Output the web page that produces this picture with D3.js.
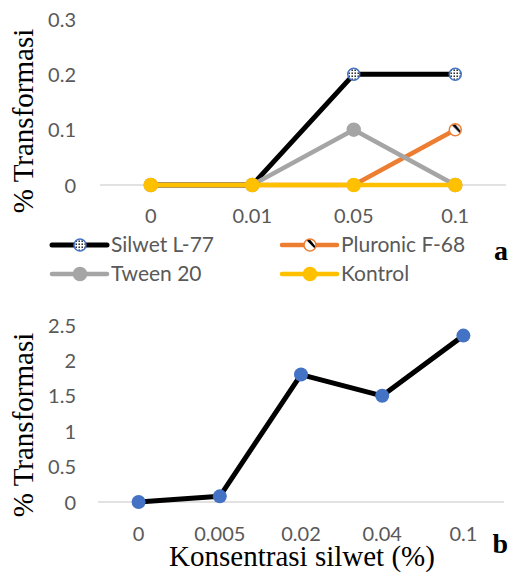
<!DOCTYPE html>
<html>
<head>
<meta charset="utf-8">
<script src="https://cdn.jsdelivr.net/npm/d3@7"></script>
<style>
  body { margin: 0; background: #fff; }
  .tick text { font-family: Lato, "Open Sans", sans-serif; fill: #595959; }
</style>
</head>
<body>
<script>
var width = 508;
var height = 572;

// chart a
var concA = ["0", "0.01", "0.05", "0.1"];
var silwet = [0, 0, 0.2, 0.2];
var pluronic = [0, 0, 0, 0.1];
var tween = [0, 0, 0.1, 0];
var kontrol = [0, 0, 0, 0];
var ticksA = [0, 0.1, 0.2, 0.3];

// chart b
var concB = ["0", "0.005", "0.02", "0.04", "0.1"];
var silwetB = [0, 0.08, 1.8, 1.5, 2.35];
var ticksB = [0, 0.5, 1, 1.5, 2, 2.5];

var svg = d3.select("body")
    .append("svg")
    .attr("width", width)
    .attr("height", height);

var defs = svg.append("defs");

var dots = defs.append("pattern")
    .attr("id", "dots")
    .attr("patternUnits", "userSpaceOnUse")
    .attr("width", 3)
    .attr("height", 3);
dots.append("rect").attr("width", 3).attr("height", 3).attr("fill", "#fff");
dots.append("rect").attr("x", 0.5).attr("y", 0.5).attr("width", 1.4).attr("height", 1.4).attr("fill", "#000");

var hatch = defs.append("pattern")
    .attr("id", "hatch")
    .attr("patternUnits", "objectBoundingBox")
    .attr("patternContentUnits", "objectBoundingBox")
    .attr("width", 1)
    .attr("height", 1);
hatch.append("rect").attr("width", 1).attr("height", 1).attr("fill", "#fff");
hatch.append("path").attr("d", "M0.15,0.05 L0.5,0.05 L0.95,0.6 L0.95,0.85 Z").attr("fill", "#000");

var series = [
    { name: "Silwet L-77", values: silwet, color: "#000000", lw: 5, fill: "url(#dots)", stroke: "#4472C4", r: 6 },
    { name: "Pluronic F-68", values: pluronic, color: "#ED7D31", lw: 4.5, fill: "url(#hatch)", stroke: "#ED7D31", r: 6 },
    { name: "Tween 20", values: tween, color: "#A5A5A5", lw: 4.5, fill: "#A5A5A5", stroke: "#A5A5A5", r: 6.5 },
    { name: "Kontrol", values: kontrol, color: "#FFC000", lw: 4.5, fill: "#FFC000", stroke: "#FFC000", r: 6.5 }
];

function axes(g, x, y, ticks, yTicks, xLabelY) {
    g.append("line")
        .attr("x1", x.range()[0]).attr("x2", x.range()[1])
        .attr("y1", y(0)).attr("y2", y(0))
        .attr("stroke", "#D9D9D9").attr("stroke-width", 1.3);

    var ya = g.append("g")
        .attr("transform", "translate(76,0)")
        .call(d3.axisLeft(y).tickValues(yTicks).tickSize(0).tickPadding(0).tickFormat(d3.format("~g")));
    ya.select(".domain").remove();
    ya.selectAll("text").attr("font-size", "20px").attr("dy", "0.35em");

    var xa = g.append("g")
        .attr("transform", "translate(0," + xLabelY + ")")
        .call(d3.axisBottom(x).tickSize(0).tickPadding(0));
    xa.select(".domain").remove();
    xa.selectAll("text").attr("font-size", "20px").attr("dy", 0);
}

function yTitle(y0, y1) {
    svg.append("text")
        .attr("transform", "translate(33," + ((y0 + y1) / 2) + ") rotate(-90)")
        .attr("text-anchor", "middle")
        .attr("font-family", "'Liberation Serif', 'Times New Roman', serif")
        .attr("font-size", "29px")
        .attr("fill", "#000")
        .text("% Transformasi");
}

// ---- chart a
var xA = d3.scaleBand().domain(concA).range([100, 506]);
var yA = d3.scaleLinear().domain([0, 0.3]).range([185, 19]);
var gA = svg.append("g");
axes(gA, xA, yA, concA, ticksA, 223);
yTitle(30, 212);

var lineA = d3.line()
    .x(function(d, i) { return xA(concA[i]) + xA.bandwidth() / 2; })
    .y(function(d) { return yA(d); });

series.forEach(function(s) {
    gA.append("path")
        .attr("d", lineA(s.values))
        .attr("fill", "none")
        .attr("stroke", s.color)
        .attr("stroke-width", s.lw)
        .attr("stroke-linejoin", "round");
    gA.selectAll(null)
        .data(s.values)
        .enter()
        .append("circle")
        .attr("cx", function(d, i) { return xA(concA[i]) + xA.bandwidth() / 2; })
        .attr("cy", function(d) { return yA(d); })
        .attr("r", s.r)
        .attr("fill", s.fill)
        .attr("stroke", s.stroke)
        .attr("stroke-width", 1.5);
});

// legend
var legPos = [[52, 245], [282, 245], [52, 274], [282, 274]];
series.forEach(function(s, i) {
    var lx = legPos[i][0], ly = legPos[i][1];
    var lg = svg.append("g");
    lg.append("line")
        .attr("x1", lx).attr("x2", lx + 55)
        .attr("y1", ly).attr("y2", ly)
        .attr("stroke", s.color).attr("stroke-width", s.lw)
        .attr("stroke-linecap", "round");
    lg.append("circle")
        .attr("cx", lx + 28).attr("cy", ly)
        .attr("r", s.r)
        .attr("fill", s.fill)
        .attr("stroke", s.stroke)
        .attr("stroke-width", 1.5);
    lg.append("text")
        .attr("x", lx + 59).attr("y", ly)
        .attr("dy", "0.35em")
        .attr("font-family", "Lato, 'Open Sans', sans-serif")
        .attr("font-size", "21px")
        .attr("fill", "#595959")
        .text(s.name);
});

svg.append("text")
    .attr("x", 508).attr("y", 260)
    .attr("text-anchor", "end")
    .attr("font-family", "'Liberation Serif', serif")
    .attr("font-weight", "bold")
    .attr("font-size", "28px")
    .text("a");

// ---- chart b
var xB = d3.scaleBand().domain(concB).range([98, 504]);
var yB = d3.scaleLinear().domain([0, 2.5]).range([502, 325]);
var gB = svg.append("g");
axes(gB, xB, yB, concB, ticksB, 541);
yTitle(333, 517);

var lineB = d3.line()
    .x(function(d, i) { return xB(concB[i]) + xB.bandwidth() / 2; })
    .y(function(d) { return yB(d); });

gB.append("path")
    .attr("d", lineB(silwetB))
    .attr("fill", "none")
    .attr("stroke", "#000")
    .attr("stroke-width", 5)
    .attr("stroke-linejoin", "round");

gB.selectAll("circle")
    .data(silwetB)
    .enter()
    .append("circle")
    .attr("cx", function(d, i) { return xB(concB[i]) + xB.bandwidth() / 2; })
    .attr("cy", function(d) { return yB(d); })
    .attr("r", 7)
    .attr("fill", "#4472C4");

svg.append("text")
    .attr("x", 302).attr("y", 566)
    .attr("text-anchor", "middle")
    .attr("font-family", "'Liberation Serif', 'Times New Roman', serif")
    .attr("font-size", "29px")
    .text("Konsentrasi silwet (%)");

svg.append("text")
    .attr("x", 508).attr("y", 553)
    .attr("text-anchor", "end")
    .attr("font-family", "'Liberation Serif', serif")
    .attr("font-weight", "bold")
    .attr("font-size", "28px")
    .text("b");
</script>
</body>
</html>
